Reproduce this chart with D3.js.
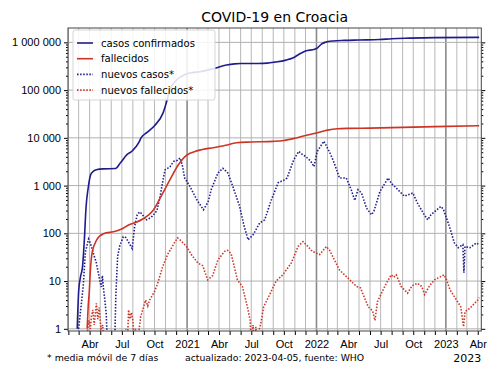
<!DOCTYPE html>
<html>
<head>
<meta charset="utf-8">
<script src="https://cdn.jsdelivr.net/npm/d3@7"></script>
<style>
  body { margin: 0; background: #fff; }
  svg { font-family: "DejaVu Sans", sans-serif; }
</style>
</head>
<body>
<svg id="chart" width="500" height="375"></svg>
<script>
// COVID-19 en Croacia, escala logaritmica

var casosFechas = ["2020-02-26","2020-03-01","2020-03-06","2020-03-12","2020-03-17","2020-03-22","2020-03-28","2020-04-04","2020-04-12","2020-04-20","2020-05-10","2020-06-13","2020-06-27","2020-07-16","2020-07-30","2020-08-18","2020-08-24","2020-09-10","2020-10-01","2020-10-25","2020-11-05","2020-11-13","2020-12-03","2020-12-26","2021-01-15","2021-02-06","2021-03-15","2021-04-22","2021-05-15","2021-06-01","2021-07-20","2021-08-15","2021-09-05","2021-10-07","2021-10-26","2021-11-14","2021-12-01","2021-12-27","2022-01-05","2022-01-15","2022-01-25","2022-02-17","2022-03-20","2022-04-30","2022-06-28","2022-08-01","2022-09-20","2022-12-01","2023-04-05"];
var casosValores = [1,6,12,20,70,360,900,1700,2000,2150,2240,2280,3000,4500,5300,8000,10000,13000,18000,33000,60000,100000,165000,212000,232000,242000,280000,335000,355000,360000,362000,368000,385000,425000,470000,570000,660000,720000,780000,920000,1000000,1070000,1100000,1120000,1145000,1190000,1225000,1260000,1275000];

var muertesFechas = ["2020-03-25","2020-03-28","2020-03-31","2020-04-03","2020-04-08","2020-04-21","2020-05-10","2020-06-13","2020-07-02","2020-07-20","2020-08-10","2020-08-29","2020-09-27","2020-10-20","2020-11-13","2020-12-07","2020-12-30","2021-01-31","2021-03-19","2021-04-20","2021-05-20","2021-06-30","2021-09-01","2021-10-01","2021-11-01","2021-12-01","2022-01-01","2022-02-01","2022-03-01","2022-04-01","2022-06-01","2022-09-01","2022-12-01","2023-04-05"];
var muertesValores = [1,3,6,16,39,73,98,110,125,150,170,200,300,600,1300,2700,4300,5400,6300,7000,7900,8200,8450,8800,9800,11200,12600,14500,15500,15800,16000,16600,17200,18000];

var nuevosCasosFechas = ["2020-03-01","2020-03-08","2020-03-14","2020-03-20","2020-03-29","2020-04-02","2020-04-06","2020-04-13","2020-04-20","2020-04-30","2020-05-04","2020-05-07","2020-05-10","2020-05-14","2020-05-18","2020-05-22","2020-06-10","2020-06-14","2020-06-19","2020-06-25","2020-07-05","2020-07-12","2020-07-20","2020-07-30","2020-08-06","2020-08-13","2020-08-20","2020-08-28","2020-09-06","2020-09-14","2020-09-25","2020-10-08","2020-10-17","2020-10-25","2020-10-31","2020-11-07","2020-11-14","2020-11-24","2020-12-05","2020-12-12","2020-12-18","2020-12-25","2021-01-09","2021-01-28","2021-02-16","2021-03-01","2021-03-10","2021-03-29","2021-04-12","2021-04-26","2021-05-10","2021-05-29","2021-06-10","2021-06-22","2021-07-06","2021-07-25","2021-08-08","2021-08-27","2021-09-15","2021-10-01","2021-10-10","2021-10-29","2021-11-12","2021-11-22","2021-12-01","2021-12-15","2021-12-25","2022-01-03","2022-01-22","2022-01-28","2022-02-10","2022-02-20","2022-03-07","2022-03-26","2022-04-09","2022-04-19","2022-04-28","2022-05-08","2022-05-22","2022-06-05","2022-06-12","2022-06-29","2022-07-22","2022-08-01","2022-08-14","2022-09-06","2022-09-30","2022-10-13","2022-11-01","2022-11-11","2022-11-20","2022-12-18","2022-12-25","2023-01-11","2023-01-25","2023-02-05","2023-02-18","2023-02-21","2023-02-24","2023-03-10","2023-03-28","2023-04-05"];
var nuevosCasosValores = [1,3,8,40,76,65,53,35,24,10,7.5,13,7,4,2,0,0,5,33,55,85,82,65,48,140,240,280,250,190,200,230,300,600,1300,2150,2300,2500,3200,3400,3800,2800,1450,960,510,312,450,820,1840,2300,1840,960,370,150,73,93,165,192,510,1150,1300,1440,3500,5200,4500,4100,3300,2500,5200,8500,7000,4500,2960,1440,1440,820,490,820,700,340,245,290,750,1440,1100,890,600,700,430,245,192,245,365,320,140,63,50,58,15,53,50,63,58];

var nuevasMuertesFechas = ["2020-03-26","2020-03-30","2020-04-03","2020-04-06","2020-04-10","2020-04-14","2020-04-20","2020-04-24","2020-04-28","2020-05-03","2020-05-08","2020-05-12","2020-07-08","2020-07-12","2020-07-16","2020-07-20","2020-07-24","2020-07-28","2020-08-01","2020-08-04","2020-08-08","2020-08-14","2020-08-23","2020-09-06","2020-09-12","2020-09-17","2020-10-01","2020-10-10","2020-10-24","2020-11-07","2020-11-26","2020-12-05","2020-12-15","2020-12-30","2021-01-13","2021-01-31","2021-02-14","2021-02-28","2021-03-14","2021-03-29","2021-04-17","2021-04-25","2021-05-05","2021-05-23","2021-06-06","2021-06-20","2021-06-28","2021-07-02","2021-07-06","2021-07-10","2021-07-14","2021-07-18","2021-07-24","2021-07-28","2021-08-05","2021-08-24","2021-09-09","2021-09-28","2021-10-22","2021-11-10","2021-11-24","2021-12-08","2021-12-20","2022-01-10","2022-01-29","2022-02-08","2022-03-07","2022-03-31","2022-04-24","2022-05-05","2022-05-27","2022-06-08","2022-06-15","2022-06-22","2022-07-17","2022-07-31","2022-08-07","2022-08-14","2022-08-28","2022-09-15","2022-09-28","2022-10-13","2022-10-25","2022-11-02","2022-11-16","2022-11-30","2022-12-27","2023-01-03","2023-01-13","2023-02-03","2023-02-12","2023-02-20","2023-02-24","2023-03-10","2023-04-01","2023-04-05"];
var nuevasMuertesValores = [0.9,1.5,1,1.8,2.5,1.2,3.4,1.6,2.8,1,1.2,0,0,1,0.4,2.5,1.6,2.2,1.5,0.6,1,0.5,1.8,4,3,4,6,9,20,36,63,80,70,53,36,24,21,10.6,13,28,42,44,38,10.6,7.7,2.9,1.5,0,1.2,0,1.1,0,1,1.3,2.9,5.6,10,13.5,24,53,67,53,42,36,53,43,17,11.5,7.7,7.2,2.9,2.4,1.5,3.7,9,13.5,12,13.5,7.7,5.6,8,9,7.7,5.2,8,10.6,13.5,10.6,6.5,3.7,2.9,1.1,2.3,2.7,4,4.5];

var yTicks = [1,10,100,1000,10000,100000,1000000];
var mesesEtiquetas = {3: "Abr", 6: "Jul", 9: "Oct"};

var azul = "#1f1d8c", rojo = "#cc3526";

var svg = d3.select("#chart");
var mL = 68, mR = 481.3, mT = 28, mB = 331;

var parse = d3.timeParse("%Y-%m-%d");

function serie(fechas, valores){
  return fechas.map(function(f, i){ return {date: parse(f), value: valores[i]}; });
}

var x = d3.scaleTime()
  .domain([parse("2020-01-31"), parse("2023-04-11")])
  .range([mL, mR]);

var y = d3.scaleLog()
  .domain([0.9, 2e6])
  .range([mB, mT]);

var fmt = function(v){ return d3.format(",")(v).replace(/,/g, " "); };

var meses = d3.timeMonth.range(parse("2020-02-01"), parse("2023-04-10"));

// grid
var grid = svg.append("g");
grid.selectAll("line.v")
  .data(meses)
  .enter().append("line")
  .attr("x1", function(d){ return x(d); })
  .attr("x2", function(d){ return x(d); })
  .attr("y1", mT).attr("y2", mB)
  .attr("stroke", function(d){ return d.getMonth() == 0 ? "#8a8a8a" : "#b8b8b8"; })
  .attr("stroke-width", function(d){ return d.getMonth() == 0 ? 1.6 : 1; });

grid.selectAll("line.h")
  .data(yTicks)
  .enter().append("line")
  .attr("x1", mL).attr("x2", mR)
  .attr("y1", function(d){ return y(d); })
  .attr("y2", function(d){ return y(d); })
  .attr("stroke", "#b0b0b0")
  .attr("stroke-width", 1);

// series
svg.append("clipPath").attr("id", "clip")
  .append("rect")
  .attr("x", mL).attr("y", mT)
  .attr("width", mR - mL).attr("height", mB - mT);

var plot = svg.append("g").attr("clip-path", "url(#clip)");

function linea(curve){
  return d3.line()
    .x(function(d){ return x(d.date); })
    .y(function(d){ return y(Math.max(d.value, 0.3)); })
    .curve(curve);
}

var series = [
  {data: serie(nuevosCasosFechas, nuevosCasosValores), color: azul, dash: "1.5,1.6", curve: d3.curveLinear},
  {data: serie(nuevasMuertesFechas, nuevasMuertesValores), color: rojo, dash: "1.5,1.6", curve: d3.curveLinear},
  {data: serie(casosFechas, casosValores), color: azul, dash: null, curve: d3.curveMonotoneX},
  {data: serie(muertesFechas, muertesValores), color: rojo, dash: null, curve: d3.curveMonotoneX}
];

series.forEach(function(s){
  plot.append("path")
    .datum(s.data)
    .attr("d", linea(s.curve))
    .attr("fill", "none")
    .attr("stroke", s.color)
    .attr("stroke-width", 1.6)
    .attr("stroke-dasharray", s.dash);
});

// axes
var xAxis = d3.axisBottom(x)
  .tickValues(meses)
  .tickSize(4)
  .tickFormat(function(d){
    if (d.getMonth() == 0) return d.getFullYear();
    return mesesEtiquetas[d.getMonth()] || "";
  });

var gx = svg.append("g")
  .attr("transform", "translate(0," + mB + ")")
  .call(xAxis);
gx.select(".domain").remove();
gx.selectAll("text").attr("font-size", 11).attr("fill", "#000").attr("dy", "0.95em");

var minor = [];
yTicks.forEach(function(t){
  for (var k = 2; k < 10; k++) {
    var v = t * k;
    if (v < 2e6) minor.push(v);
  }
});

var gy = svg.append("g")
  .attr("transform", "translate(" + mL + ",0)")
  .call(d3.axisLeft(y).tickValues(yTicks).tickSize(4).tickFormat(fmt));
gy.select(".domain").remove();
gy.selectAll("text").attr("font-size", 11).attr("fill", "#000");

svg.append("g")
  .attr("transform", "translate(" + mL + ",0)")
  .call(d3.axisLeft(y).tickValues(minor).tickSize(2).tickFormat(""))
  .select(".domain").remove();

var gr = svg.append("g")
  .attr("transform", "translate(" + mR + ",0)")
  .call(d3.axisRight(y).tickValues(yTicks).tickSize(4).tickFormat(""));
gr.select(".domain").remove();

svg.append("g")
  .attr("transform", "translate(" + mR + ",0)")
  .call(d3.axisRight(y).tickValues(minor).tickSize(2).tickFormat(""))
  .select(".domain").remove();

svg.append("rect")
  .attr("x", mL).attr("y", mT)
  .attr("width", mR - mL).attr("height", mB - mT)
  .attr("fill", "none")
  .attr("stroke", "#444")
  .attr("stroke-width", 1);

// legend
var leyenda = [
  {label: "casos confirmados", color: azul, dash: null},
  {label: "fallecidos", color: rojo, dash: null},
  {label: "nuevos casos*", color: azul, dash: "1.5,1.6"},
  {label: "nuevos fallecidos*", color: rojo, dash: "1.5,1.6"}
];

var lg = svg.append("g");
lg.append("rect")
  .attr("x", 73).attr("y", 30)
  .attr("width", 142).attr("height", 70)
  .attr("rx", 2)
  .attr("fill", "rgba(255,255,255,0.85)")
  .attr("stroke", "#d5d5d5");

var items = lg.selectAll("g.item")
  .data(leyenda)
  .enter().append("g")
  .attr("transform", function(d, i){ return "translate(0," + (43 + i * 15.7) + ")"; });

items.append("line")
  .attr("x1", 77).attr("x2", 93)
  .attr("stroke", function(d){ return d.color; })
  .attr("stroke-width", 1.6)
  .attr("stroke-dasharray", function(d){ return d.dash; });

items.append("text")
  .attr("x", 101).attr("dy", "0.35em")
  .attr("font-size", 10.1)
  .text(function(d){ return d.label; });

// texts
svg.append("text")
  .attr("x", (mL + mR) / 2).attr("y", 22)
  .attr("text-anchor", "middle")
  .attr("font-size", 14)
  .text("COVID-19 en Croacia");

svg.append("text")
  .attr("x", 47).attr("y", 361)
  .attr("font-size", 9.4)
  .text("* media móvil de 7 días");

svg.append("text")
  .attr("x", 185).attr("y", 361)
  .attr("font-size", 9.3)
  .text("actualizado: 2023-04-05, fuente: WHO");

svg.append("text")
  .attr("x", mR).attr("y", 362)
  .attr("text-anchor", "end")
  .attr("font-size", 11)
  .text("2023");
</script>
</body>
</html>
